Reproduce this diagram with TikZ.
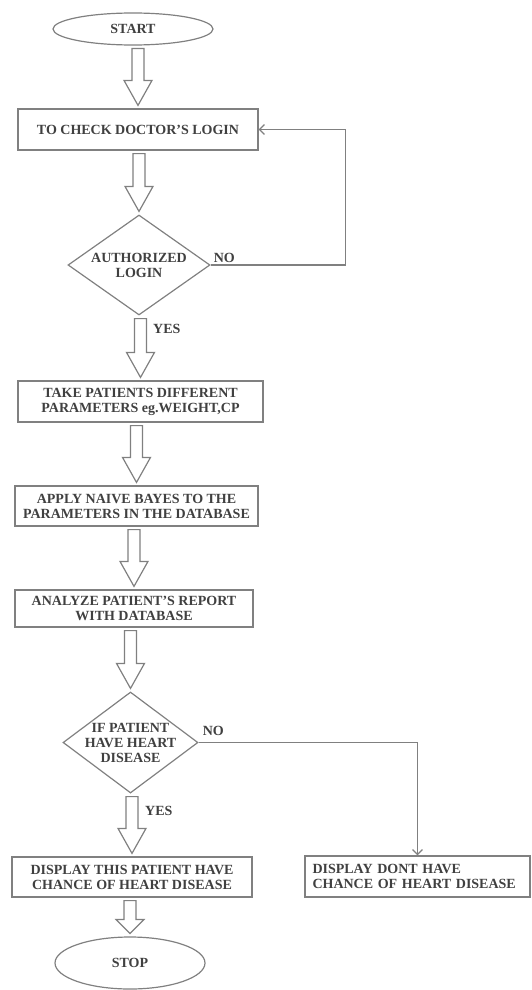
\documentclass[tikz,border=0pt]{standalone}
\usepackage{fontspec}
\setmainfont{Liberation Serif}
\usetikzlibrary{positioning, shapes.geometric, arrows.meta, calc}

\definecolor{linegray}{gray}{0.5}
\definecolor{textgray}{gray}{0.25}

\tikzset{
  flowtext/.style={font=\fontsize{14}{15}\selectfont\bfseries, text=textgray},
  procbox/.style={draw=linegray, line width=1.2pt, rectangle, flowtext, align=center, inner sep=0pt},
  termnode/.style={draw=linegray, line width=1.2pt, ellipse, flowtext, inner sep=0pt},
  decnode/.style={draw=linegray, line width=1.2pt, diamond, flowtext, align=center, inner sep=-4pt, shape aspect=1.42},
  blockarr/.style={draw=linegray, line width=1.2pt, fill=white, line join=miter},
  flowline/.style={draw=linegray, line width=1.2pt},
  lbl/.style={flowtext, inner sep=0pt},
}

% hollow block arrow between two nodes, #1 = head length
\newcommand{\blockarrow}[3][28]{%
  \draw[blockarr] let \p1=(#2.south), \p2=(#3.north) in
    (\x2-6pt,\y1-3pt) -- (\x2-6pt,\y2+#1pt) -- (\x2-14pt,\y2+#1pt) -- (\x2,\y2+3pt)
    -- (\x2+14pt,\y2+#1pt) -- (\x2+6pt,\y2+#1pt) -- (\x2+6pt,\y1-3pt) -- cycle;}

\begin{document}
\begin{tikzpicture}[x=1pt, y=1pt]
\useasboundingbox (0,0) rectangle (531,-990);

% steps
\node[termnode, minimum width=160pt, minimum height=32pt] (start) at (133,-29) {START};
\node[procbox, minimum width=240pt, minimum height=41pt] (login) at (138,-129.5) {TO CHECK DOCTOR'S LOGIN};
\node[decnode, minimum width=142pt, minimum height=100pt] (auth) at (139,-265) {AUTHORIZED\\LOGIN};
\node[procbox, minimum width=245pt, minimum height=41pt] (params) at (140.5,-401.5) {TAKE PATIENTS DIFFERENT\\PARAMETERS eg.WEIGHT,CP};
\node[procbox, minimum width=243pt, minimum height=40pt] (bayes) at (136.5,-506) {APPLY NAIVE BAYES TO THE\\PARAMETERS IN THE DATABASE};
\node[procbox, minimum width=238pt, minimum height=37pt] (analyze) at (134,-608.5) {ANALYZE PATIENT'S REPORT\\WITH DATABASE};
\node[decnode, minimum width=135pt, minimum height=101pt] (heart) at (130.5,-742.5) {IF PATIENT\\HAVE HEART\\DISEASE};
\node[procbox, minimum width=240pt, minimum height=40pt] (display) at (132,-877) {DISPLAY THIS PATIENT HAVE\\CHANCE OF HEART DISEASE};
\node[procbox, minimum width=225pt, minimum height=41pt, text width=210pt, align=left] (nodisplay) at (417.5,-876.5) {DISPLAY DONT HAVE\\CHANCE OF HEART DISEASE};
\node[termnode, minimum width=150pt, minimum height=52pt] (stop) at (130,-963) {STOP};

% block arrows
\blockarrow{start}{login}
\blockarrow{login}{auth}
\blockarrow{auth}{params}
\blockarrow{params}{bayes}
\blockarrow{bayes}{analyze}
\blockarrow{analyze}{heart}
\blockarrow{heart}{display}
\blockarrow[17]{display}{stop}

% branches
\draw[flowline, -{Straight Barb[length=5pt,width=10pt]}] (auth.east) -- ++(135,0) |- (login.east);
\draw[flowline, -{Straight Barb[length=5pt,width=10pt]}] (heart.east) -| (nodisplay.north);

\node[lbl, above right=2pt and 3pt of auth.east] {NO};
\node[lbl, below right=8.5pt and 14pt of auth.south] {YES};
\node[lbl, above right=7pt and 4pt of heart.east] {NO};
\node[lbl, below right=12.5pt and 14.5pt of heart.south] {YES};
\end{tikzpicture}
\end{document}
